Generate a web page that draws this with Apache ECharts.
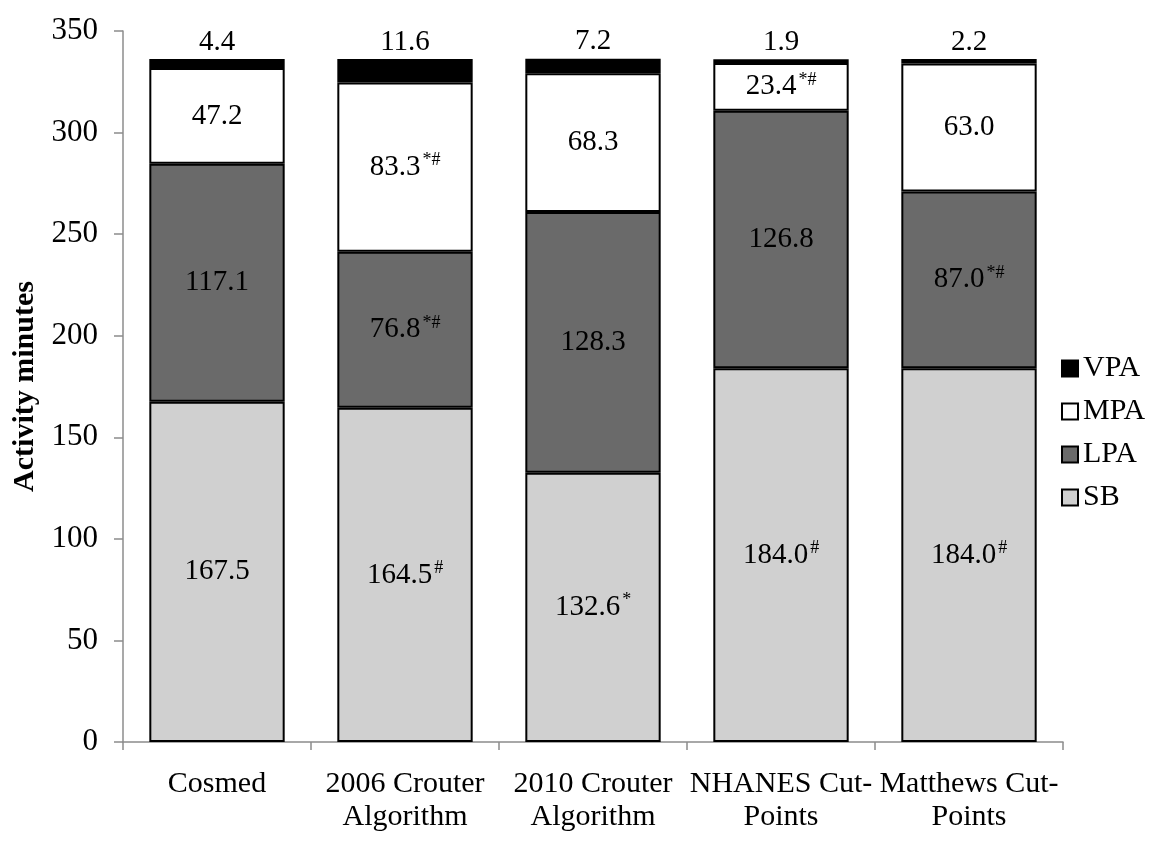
<!DOCTYPE html>
<html>
<head>
<meta charset="utf-8">
<title>Activity minutes by method</title>
<script src="https://cdn.jsdelivr.net/npm/echarts@6/dist/echarts.min.js"></script>
<style>
  html, body { margin: 0; padding: 0; background: #fff; }
  #chart { width: 1158px; height: 846px; }
</style>
</head>
<body>
<div id="chart"></div>
<script>
// Methods compared
const categories = ['Cosmed', '2006 Crouter\nAlgorithm', '2010 Crouter\nAlgorithm', 'NHANES Cut-\nPoints', 'Matthews Cut-\nPoints'];

// Minutes per intensity band (bottom to top of each stack)
const sbValues  = [167.5, 164.5, 132.6, 184.0, 184.0];
const lpaValues = [117.1, 76.8, 128.3, 126.8, 87.0];
const mpaValues = [47.2, 83.3, 68.3, 23.4, 63.0];
const vpaValues = [4.4, 11.6, 7.2, 1.9, 2.2];

// Significance marks shown after each value
const sbMarks  = ['', '#', '*', '#', '#'];
const lpaMarks = ['', '*#', '', '', '*#'];
const mpaMarks = ['', '*#', '', '*#', ''];
const vpaMarks = ['', '', '', '', ''];

const yTicks = { min: 0, max: 350, interval: 50 };

const FONT = "'Liberation Serif', 'Times New Roman', serif";
const AXIS_GRAY = '#8c8c8c';

function labelFor(marks, position) {
  return {
    show: true,
    position: position,
    distance: 1,
    fontFamily: FONT,
    color: '#000',
    formatter: function (p) {
      const v = p.value.toFixed(1);
      const m = marks[p.dataIndex];
      return m ? '{n|' + v + '}{s|' + m + '}' : '{n|' + v + '}';
    },
    rich: {
      n: { fontFamily: FONT, fontSize: 29, lineHeight: 32, color: '#000' },
      s: { fontFamily: FONT, fontSize: 18, lineHeight: 12, verticalAlign: 'top', color: '#000', padding: [0, 0, 0, 2] }
    }
  };
}

function band(name, values, marks, fill, position) {
  return {
    name: name,
    type: 'bar',
    stack: 'minutes',
    data: values,
    barWidth: '72%',
    itemStyle: { color: fill, borderColor: '#000', borderWidth: 2 },
    label: labelFor(marks, position),
    emphasis: { disabled: true },
    animation: false
  };
}

const chart = echarts.init(document.getElementById('chart'), null, { renderer: 'canvas' });

chart.setOption({
  backgroundColor: '#fff',
  animation: false,
  grid: { left: 123, right: 95, top: 31, bottom: 104, containLabel: false },
  legend: {
    orient: 'vertical',
    left: 1056,
    top: 348,
    itemWidth: 16,
    itemHeight: 16,
    itemGap: 12,
    icon: 'rect',
    data: ['VPA', 'MPA', 'LPA', 'SB'],
    textStyle: { fontFamily: FONT, fontSize: 30, lineHeight: 31, color: '#000' }
  },
  xAxis: {
    type: 'category',
    data: categories,
    axisLine: { show: true, lineStyle: { color: AXIS_GRAY, width: 1.5 } },
    axisTick: { show: true, length: 8, lineStyle: { color: AXIS_GRAY, width: 1.5 } },
    axisLabel: {
      interval: 0,
      margin: 26,
      fontFamily: FONT,
      fontSize: 30,
      lineHeight: 33,
      color: '#000'
    }
  },
  yAxis: {
    type: 'value',
    min: yTicks.min,
    max: yTicks.max,
    interval: yTicks.interval,
    name: 'Activity minutes',
    nameLocation: 'middle',
    nameRotate: 90,
    nameGap: 73,
    nameTextStyle: { fontFamily: FONT, fontSize: 30, fontWeight: 'bold', color: '#000' },
    axisLine: { show: true, lineStyle: { color: AXIS_GRAY, width: 1.5 } },
    axisTick: { show: true, length: 9, lineStyle: { color: AXIS_GRAY, width: 1.5 } },
    splitLine: { show: false },
    axisLabel: { margin: 25, fontFamily: FONT, fontSize: 31, color: '#000' }
  },
  series: [
    band('SB', sbValues, sbMarks, '#d0d0d0', 'inside'),
    band('LPA', lpaValues, lpaMarks, '#6a6a6a', 'inside'),
    band('MPA', mpaValues, mpaMarks, '#ffffff', 'inside'),
    band('VPA', vpaValues, vpaMarks, '#000000', 'top')
  ]
});
</script>
</body>
</html>
